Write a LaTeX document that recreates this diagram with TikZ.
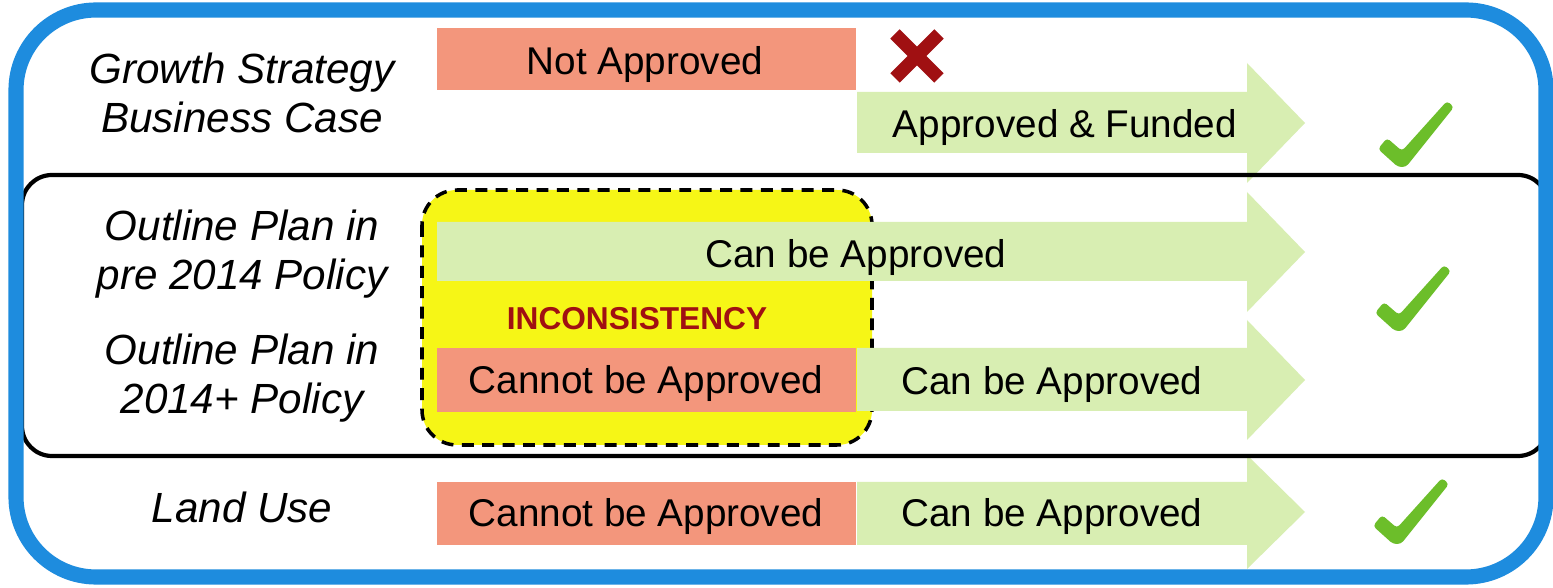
\documentclass[tikz,border=0pt]{standalone}
\usepackage{fontspec}
\setmainfont{Liberation Sans}
\definecolor{frameblue}{RGB}{30,140,222}
\definecolor{boxred}{RGB}{243,150,124}
\definecolor{arrowgreen}{RGB}{216,238,178}
\definecolor{inconyellow}{RGB}{246,246,22}
\definecolor{crossred}{RGB}{160,16,18}
\definecolor{tickgreen}{RGB}{108,190,42}

\begin{document}
\begin{tikzpicture}[x=0.01cm,y=-0.01cm,
    redbox/.style={fill=boxred},
    greenarrow/.style={fill=arrowgreen},
    boxtext/.style={font=\fontsize{11}{13}\selectfont, anchor=base},
    rowlabel/.style={font=\fontsize{12}{14.2}\selectfont\itshape, align=center, anchor=base},
    tickmark/.style={fill=tickgreen, rounded corners=1pt}]
    \useasboundingbox (0,0) rectangle (1553,588);
    \fill[white] (0,0) rectangle (1553,588);
    % inconsistency area
    \draw[fill=inconyellow, line width=1pt, dash pattern=on 3.4pt off 2.4pt, rounded corners=0.35cm] (422,190) rectangle (872,445);
    % green arrows
    \fill[greenarrow] (857,92) -- (1247,92) -- (1247,63) -- (1305,123) -- (1247,183) -- (1247,153) -- (857,153) -- cycle;
    \fill[greenarrow] (437,222) -- (1247,222) -- (1247,192) -- (1305,252) -- (1247,312) -- (1247,281) -- (437,281) -- cycle;
    \fill[greenarrow] (857,348) -- (1247,348) -- (1247,320) -- (1305,380) -- (1247,440) -- (1247,411) -- (857,411) -- cycle;
    \fill[greenarrow] (857,482) -- (1247,482) -- (1247,455) -- (1305,512) -- (1247,569) -- (1247,545) -- (857,545) -- cycle;
    % red boxes
    \fill[redbox] (437,28) rectangle (856,90);
    \fill[redbox] (437,348) rectangle (856,412);
    \fill[redbox] (437,482) rectangle (856,545);
    % texts
    \node[rowlabel] (growth) at (242,133) {Growth Strategy\\Business Case};
    \node[rowlabel] (pre) at (242,290) {Outline Plan in\\pre 2014 Policy};
    \node[rowlabel] (post) at (242,414) {Outline Plan in\\2014+ Policy};
    \node[rowlabel] (landuse) at (242,523) {Land Use};
    \node[boxtext] (notappr) at (645,75) {Not Approved};
    \node[boxtext] (funded) at (1065,138) {Approved \& Funded};
    \node[boxtext] (canpre) at (856,268) {Can be Approved};
    \node[boxtext, font=\fontsize{9}{11}\selectfont\bfseries, text=crossred] (incons) at (637,330) {INCONSISTENCY};
    \node[boxtext] (cannotpost) at (646,394) {Cannot be Approved};
    \node[boxtext] (canpost) at (1052,395) {Can be Approved};
    \node[boxtext] (cannotland) at (646,527) {Cannot be Approved};
    \node[boxtext] (canland) at (1052,527) {Can be Approved};
    % cross and ticks
    \draw[crossred, line width=3.8pt] (895,34) -- (939,78) (895,78) -- (939,34);
    \fill[tickmark, shift={(1400,163)}] (-2,4) -- (-22,-14) -- (-13,-25) -- (2,-12) -- (47,-62) -- (54,-56) -- (6,4) -- cycle;
    \fill[tickmark, shift={(1397,327)}] (-2,4) -- (-22,-14) -- (-13,-25) -- (2,-12) -- (47,-62) -- (54,-56) -- (6,4) -- cycle;
    \fill[tickmark, shift={(1395,540)}] (-2,4) -- (-22,-14) -- (-13,-25) -- (2,-12) -- (47,-62) -- (54,-56) -- (6,4) -- cycle;
    % row dividers
    \draw[line width=1.2pt, rounded corners=0.3cm] (22,175) rectangle (1548,456);
    % outer frame
    \draw[frameblue, line width=4.3pt, rounded corners=0.8cm] (16,10) rectangle (1546,577);
\end{tikzpicture}
\end{document}
